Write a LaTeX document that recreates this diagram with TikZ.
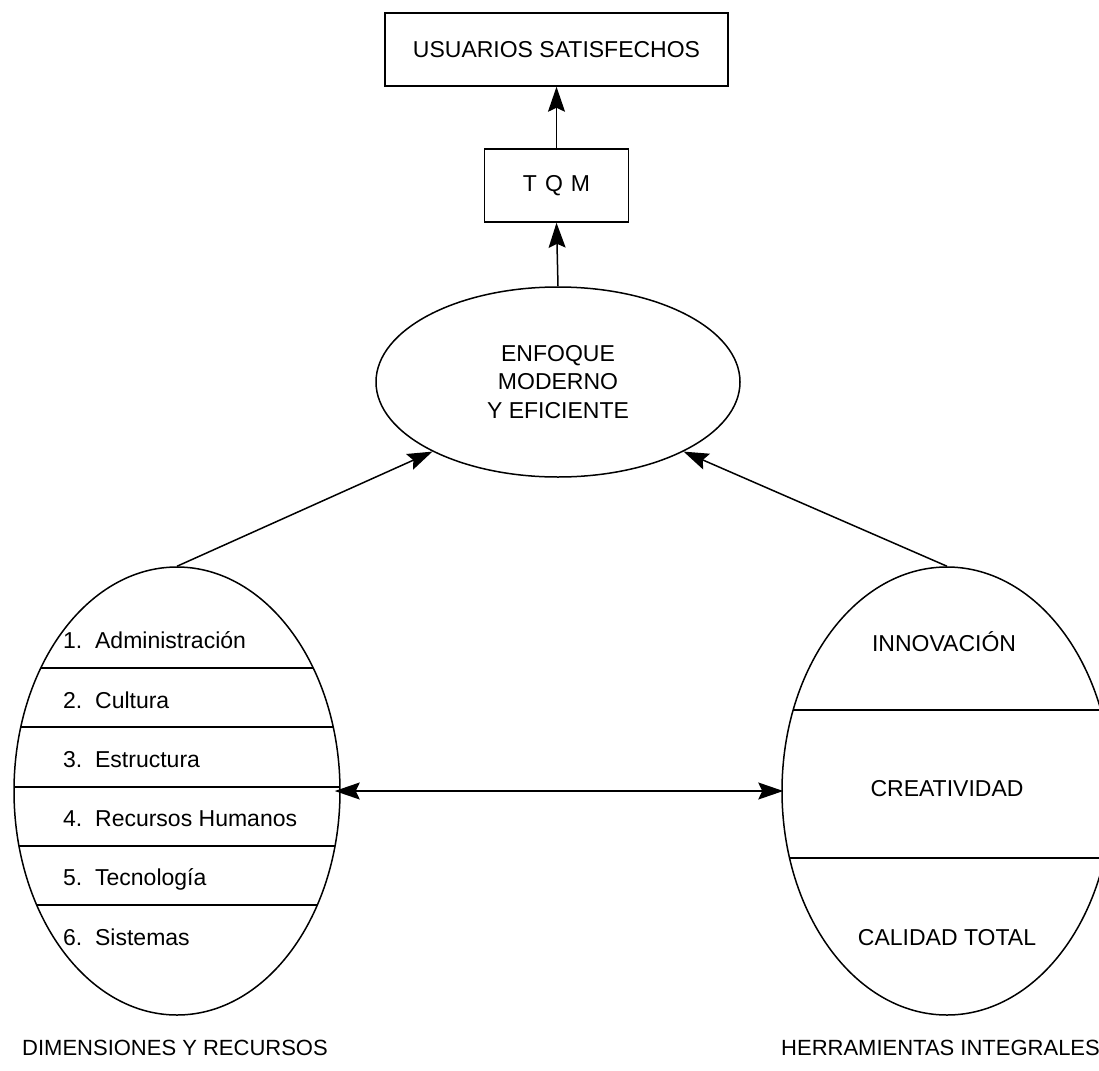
\documentclass[tikz,border=0pt]{standalone}
\usepackage{fontspec}
\setmainfont{Liberation Sans}
\usetikzlibrary{shapes.geometric,arrows.meta}
\begin{document}
\begin{tikzpicture}[x=1pt,y=-1pt,
  every node/.style={font=\fontsize{23}{28.5}\selectfont},
  box/.style={draw, line width=1.5pt, inner sep=0pt},
  oval/.style={draw, ellipse, line width=1.5pt, inner sep=0pt},
  item/.style={anchor=west, inner sep=0pt, text height=16.5pt, text depth=0pt},
  lbl/.style={inner sep=0pt, text height=16.5pt, text depth=0pt},
  caption/.style={lbl, anchor=west, font=\fontsize{22}{26}\selectfont},
  link/.style={line width=1.5pt, -{Stealth[length=25pt,width=17pt,inset=4pt]}},
  twoway/.style={line width=1.5pt, {Stealth[length=25pt,width=17pt,inset=4pt]}-{Stealth[length=25pt,width=17pt,inset=4pt]}},
  divider/.style={line width=1.5pt}]
\useasboundingbox (0,0) rectangle (1099,1070);

% top boxes
\node[box, minimum width=343pt, minimum height=73pt] (usu) at (556.5,49.5) {USUARIOS SATISFECHOS};
\node[box, minimum width=144pt, minimum height=73pt] (tqm) at (556.5,185.5) {T\hspace{0.35em}Q\hspace{0.35em}M};

% central ellipse
\node[oval, minimum width=364pt, minimum height=190pt, align=center] (enf) at (558,382)
  {ENFOQUE\\MODERNO\\Y EFICIENTE};

% side ellipses
\node[oval, minimum width=326pt, minimum height=448pt] (dim) at (177,791) {};
\node[oval, minimum width=330pt, minimum height=448pt] (her) at (947,791) {};

% dividers of the left ellipse
\begin{scope}
  \clip (177,791) ellipse [x radius=163pt, y radius=224pt];
  \foreach \yy in {668,727,787,846,905}
    \draw[divider] (0,\yy) -- (400,\yy);
\end{scope}

% dividers of the right ellipse
\begin{scope}
  \clip (947,791) ellipse [x radius=165pt, y radius=224pt];
  \foreach \yy in {710,858}
    \draw[divider] (700,\yy) -- (1200,\yy);
\end{scope}

% list of the left ellipse
\node[item] (d1) at (63,640) {1.~~Administración};
\node[item] (d2) at (63,700) {2.~~Cultura};
\node[item] (d3) at (63,759) {3.~~Estructura};
\node[item] (d4) at (63,818) {4.~~Recursos Humanos};
\node[item] (d5) at (63,877) {5.~~Tecnología};
\node[item] (d6) at (63,937) {6.~~Sistemas};

% items of the right ellipse
\node[lbl] (h1) at (944,643) {INNOVACIÓN};
\node[lbl] (h2) at (947,788) {CREATIVIDAD};
\node[lbl] (h3) at (947,937) {CALIDAD TOTAL};

% captions
\node[caption] (dimlbl) at (22,1047) {DIMENSIONES Y RECURSOS};
\node[caption] (herlbl) at (781,1047) {HERRAMIENTAS INTEGRALES};

% connectors
\draw[link] (tqm.north) -- (usu.south);
\draw[link] (enf.north) -- (tqm.south);
\draw[link] (dim.north) -- (enf.209);
\draw[link] (her.north) -- (enf.331);
\draw[twoway, shorten <=-6pt, shorten >=-2pt] (dim.east) -- (her.west);
\end{tikzpicture}
\end{document}
